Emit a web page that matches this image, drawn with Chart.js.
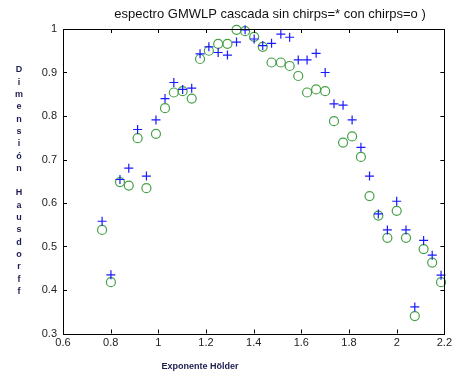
<!DOCTYPE html>
<html>
<head>
<meta charset="utf-8">
<script src="https://cdn.jsdelivr.net/npm/chart.js@4/dist/chart.umd.min.js"></script>
<style>
html,body{margin:0;padding:0;background:#fff;}
#wrap{width:455px;height:380px;position:relative;}
</style>
</head>
<body>
<div id="wrap"><canvas id="c" width="455" height="380"></canvas></div>
<script>
// Holder exponent positions (shared by both series)
const holder = [0.764,0.801,0.839,0.876,0.913,0.950,0.990,1.028,1.065,1.102,1.140,1.175,1.212,1.251,1.290,1.328,1.364,1.402,1.438,1.475,1.514,1.551,1.587,1.624,1.662,1.700,1.737,1.775,1.813,1.850,1.886,1.923,1.961,2.000,2.039,2.076,2.113,2.149,2.186];
// sin chirps (*)
const sinChirps = [0.558,0.435,0.654,0.680,0.769,0.662,0.791,0.840,0.877,0.861,0.864,0.943,0.959,0.946,0.940,0.970,0.998,0.977,0.962,0.967,0.988,0.981,0.929,0.929,0.944,0.900,0.828,0.825,0.791,0.728,0.662,0.575,0.538,0.604,0.538,0.361,0.514,0.480,0.434];
// con chirps (o)
const conChirps = [0.538,0.418,0.648,0.640,0.749,0.634,0.759,0.818,0.854,0.857,0.840,0.931,0.950,0.966,0.966,0.998,0.995,0.982,0.959,0.923,0.923,0.915,0.892,0.854,0.861,0.857,0.788,0.739,0.753,0.706,0.616,0.571,0.520,0.582,0.520,0.340,0.494,0.463,0.418];
const xTicks = [0.6,0.8,1,1.2,1.4,1.6,1.8,2,2.2];
const yTicks = [0.3,0.4,0.5,0.6,0.7,0.8,0.9,1];
const titleText = 'espectro GMWLP cascada sin chirps=* con chirps=o )';
const xLabel = 'Exponente Hölder';
const yLabel = 'Dimensión Hausdorff';

const toPts = (xs, ys) => xs.map((x, i) => ({x: x, y: ys[i]}));

const frame = {
  id: 'frame',
  afterDraw(chart) {
    const ctx = chart.ctx, a = chart.chartArea;
    const xs = chart.scales.x, ys = chart.scales.y;
    ctx.save();
    ctx.strokeStyle = '#000';
    ctx.lineWidth = 1;
    ctx.strokeRect(Math.round(a.left) + 0.5, Math.round(a.top) + 0.5, Math.round(a.right - a.left), Math.round(a.bottom - a.top));
    const tl = 4;
    ctx.beginPath();
    xTicks.forEach(v => {
      const px = Math.round(xs.getPixelForValue(v)) + 0.5;
      ctx.moveTo(px, a.bottom); ctx.lineTo(px, a.bottom - tl);
      ctx.moveTo(px, a.top); ctx.lineTo(px, a.top + tl);
    });
    yTicks.forEach(v => {
      const py = Math.round(ys.getPixelForValue(v)) + 0.5;
      ctx.moveTo(a.left, py); ctx.lineTo(a.left + tl, py);
      ctx.moveTo(a.right, py); ctx.lineTo(a.right - tl, py);
    });
    ctx.stroke();
    // title
    ctx.fillStyle = '#111';
    ctx.font = '13px "Liberation Sans", Arial, sans-serif';
    ctx.textAlign = 'center';
    ctx.textBaseline = 'middle';
    ctx.fillText(titleText, 270, 14);
    // x label
    ctx.fillStyle = '#1c1c50';
    ctx.font = 'bold 9px "Liberation Sans", Arial, sans-serif';
    ctx.fillText(xLabel, 200, 367);
    // y label stacked letters
    const chars = Array.from(yLabel);
    chars.forEach((ch, i) => {
      if (ch !== ' ') ctx.fillText(ch, 19, 70 + i * 12.3);
    });
    ctx.restore();
  }
};

new Chart(document.getElementById('c'), {
  type: 'scatter',
  data: {
    datasets: [
      {
        label: 'sin chirps',
        data: toPts(holder, sinChirps),
        pointStyle: 'cross',
        pointRadius: 4.5,
        pointHoverRadius: 4.5,
        borderColor: '#1a1aff',
        backgroundColor: '#1a1aff',
        pointBorderWidth: 1.2,
        clip: false,
        order: 0
      },
      {
        label: 'con chirps',
        data: toPts(holder, conChirps),
        pointStyle: 'circle',
        pointRadius: 4.5,
        pointHoverRadius: 4.5,
        borderColor: '#45a045',
        backgroundColor: 'rgba(0,0,0,0)',
        pointBorderWidth: 1.2,
        clip: false,
        order: 1
      }
    ]
  },
  options: {
    responsive: false,
    animation: false,
    events: [],
    layout: {padding: {left: 0, top: 29, right: 10, bottom: 0}},
    plugins: {legend: {display: false}, tooltip: {enabled: false}, title: {display: false}},
    scales: {
      x: {
        type: 'linear', min: 0.6, max: 2.2,
        grid: {display: false, drawTicks: false},
        border: {display: false},
        afterBuildTicks: s => { s.ticks = xTicks.map(v => ({value: v})); },
        afterFit: s => { s.height = 46.5; },
        ticks: {
          padding: 3,
          color: '#222',
          font: {family: '"Liberation Sans", Arial, sans-serif', size: 11},
          callback: v => String(v),
          maxRotation: 0, autoSkip: false
        }
      },
      y: {
        type: 'linear', min: 0.3, max: 1,
        grid: {display: false, drawTicks: false},
        border: {display: false},
        afterBuildTicks: s => { s.ticks = yTicks.map(v => ({value: v})); },
        afterFit: s => { s.width = 63; },
        ticks: {
          padding: 6,
          color: '#222',
          font: {family: '"Liberation Sans", Arial, sans-serif', size: 11},
          callback: v => String(v),
          autoSkip: false
        }
      }
    }
  },
  plugins: [frame]
});
</script>
</body>
</html>
